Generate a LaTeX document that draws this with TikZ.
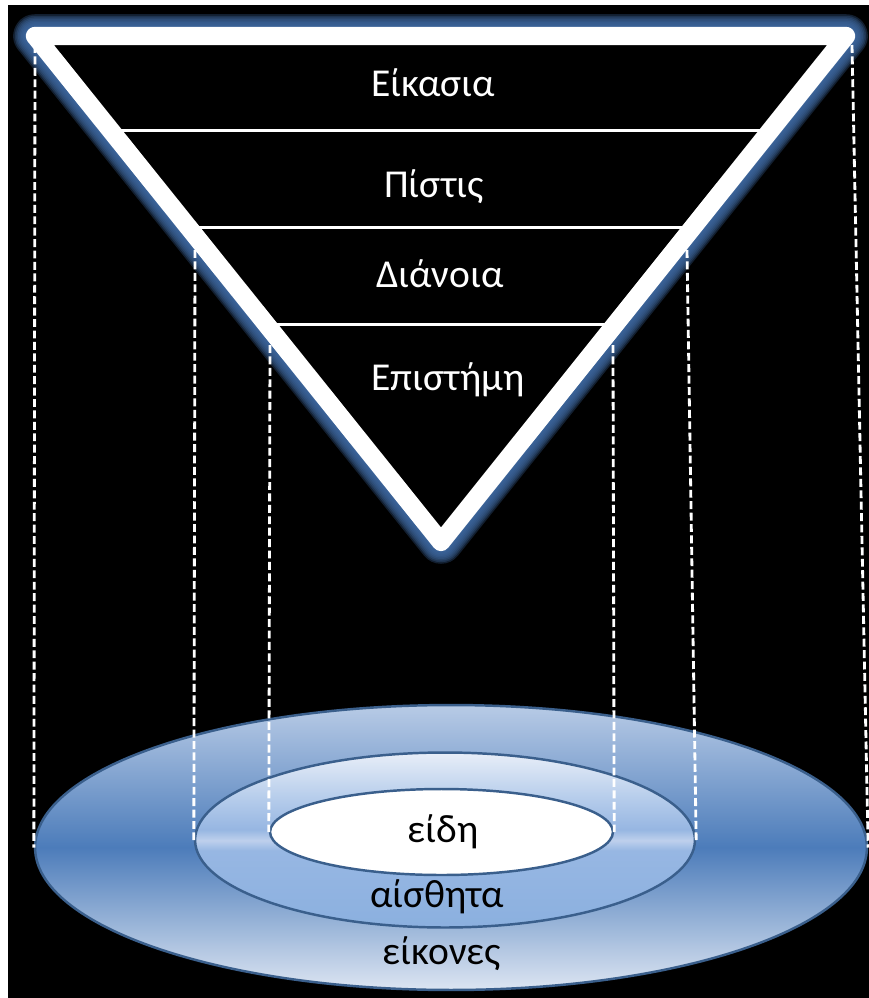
\documentclass[tikz,border=0pt]{standalone}
\usepackage{fontspec}
\newfontfamily\calib{Carlito}
\usetikzlibrary{shapes.geometric,calc}
\definecolor{glowcol}{RGB}{62,104,160}
\definecolor{ringedge}{RGB}{58,95,140}
\definecolor{outtop}{RGB}{184,203,230}
\definecolor{outmid}{RGB}{76,124,186}
\definecolor{outbot}{RGB}{220,229,242}
\definecolor{midtop}{RGB}{232,238,248}
\definecolor{midupper}{RGB}{178,202,234}
\definecolor{midhigh}{RGB}{150,182,226}
\definecolor{midband}{RGB}{190,208,236}
\definecolor{midlow}{RGB}{151,183,227}
\definecolor{midbot}{RGB}{139,176,223}
\pgfdeclareverticalshading{outerdisc}{100bp}{color(0bp)=(outbot); color(25bp)=(outbot);
  color(50bp)=(outmid); color(75bp)=(outtop); color(100bp)=(outtop)}
\pgfdeclareverticalshading{middledisc}{100bp}{color(0bp)=(midbot); color(25bp)=(midbot);
  color(47bp)=(midlow); color(49.9bp)=(midband); color(53bp)=(midhigh);
  color(61bp)=(midupper); color(75bp)=(midtop); color(100bp)=(midtop)}

\begin{document}
\begin{tikzpicture}[x=0.02cm, y=-0.02cm,
  disc/.style={ellipse, draw=ringedge, line width=1.4pt, inner sep=0pt},
  level/.style={font=\calib\fontsize{22.5}{26}\selectfont, text=white, anchor=base},
  realm/.style={font=\calib\fontsize{22.5}{26}\selectfont, text=black, anchor=base},
  divider/.style={white, line width=1.7pt},
  drop/.style={white, line width=1.6pt, dash pattern=on 4.5pt off 2pt}
]
\useasboundingbox (0,0) rectangle (869,998);
\fill[black] (8,5) rectangle (869,998);

% discs
\node[disc, shading=outerdisc, minimum width=16.64cm, minimum height=5.7cm] (outer) at (451,847.5) {};
\node[disc, shading=middledisc, minimum width=10cm, minimum height=3.5cm] (middle) at (445,840) {};
\node[disc, fill=white, minimum width=6.86cm, minimum height=1.72cm] (inner) at (441.5,832) {};

% triangle
\coordinate (tl) at (35,36);
\coordinate (tr) at (846,36);
\coordinate (bt) at (441,542);
\foreach \g in {1,...,8}
  \draw[glowcol, line width={10.4pt+\g*1.8pt}, opacity=0.3, line join=round] (tl) -- (tr) -- (bt) -- cycle;
\fill[black] (tl) -- (tr) -- (bt) -- cycle;
\draw[white, line width=10.4pt, line join=round] (tl) -- (tr) -- (bt) -- cycle;

\coordinate (l1) at ($(tl)!0.186!(bt)$);
\coordinate (r1) at ($(tr)!0.186!(bt)$);
\coordinate (l2) at ($(tl)!0.379!(bt)$);
\coordinate (r2) at ($(tr)!0.379!(bt)$);
\coordinate (l3) at ($(tl)!0.571!(bt)$);
\coordinate (r3) at ($(tr)!0.571!(bt)$);
\draw[divider] (l1) -- (r1);
\draw[divider] (l2) -- (r2);
\draw[divider] (l3) -- (r3);

% dashed drops
\coordinate (d1) at (35,45);
\coordinate (d2) at (195,250);
\coordinate (d3) at (270,345);
\coordinate (d4) at (613,345);
\coordinate (d5) at (687,250);
\coordinate (d6) at (852,45);
\draw[drop] (d1) -- (outer.west);
\draw[drop] (d2) -- (middle.west);
\draw[drop] (d3) -- (inner.west);
\draw[drop] (d4) -- (inner.east);
\draw[drop] (d5) -- (middle.east);
\draw[drop] (d6) -- (outer.east);

\node[level] (eik) at (433,96) {Είκασια};
\node[level] (pis) at (434,197) {Πίστις};
\node[level] (dia) at (440,287) {Διάνοια};
\node[level] (epi) at (448,390) {Επιστήμη};

\node[realm] (eid) at (443,842) {είδη};
\node[realm] (ais) at (437,907) {αίσθητα};
\node[realm] (eiko) at (442,964) {είκονες};
\end{tikzpicture}
\end{document}
